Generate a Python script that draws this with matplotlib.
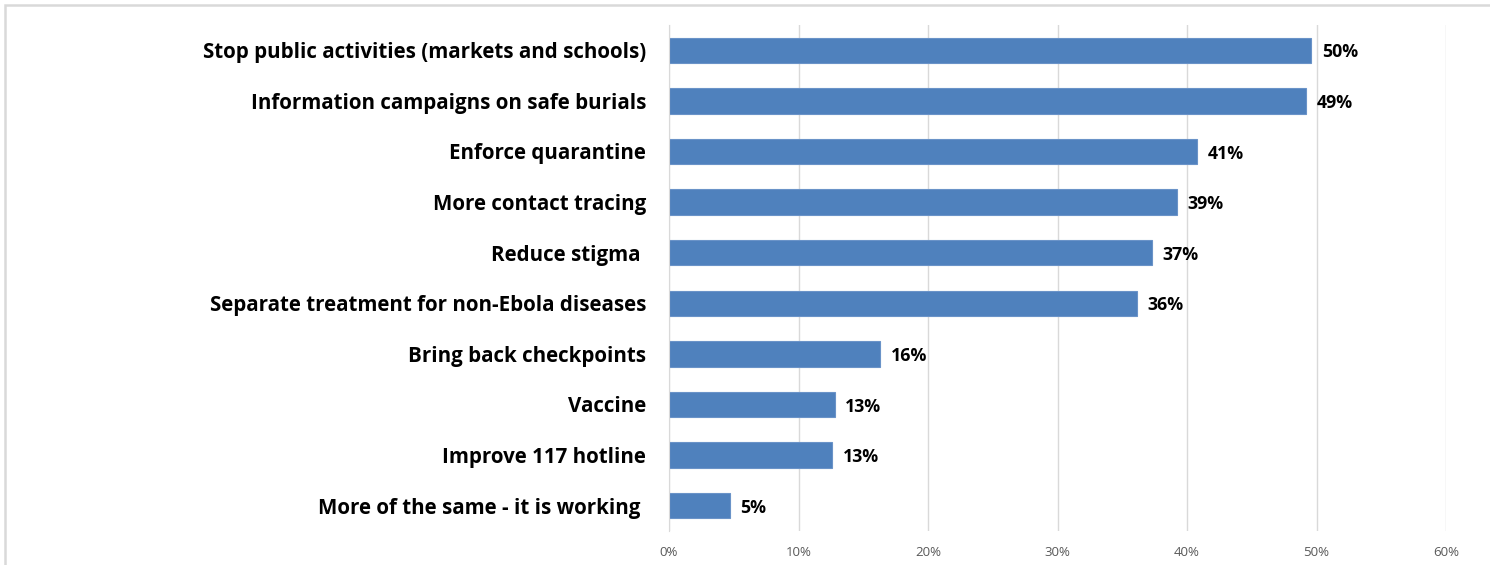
import matplotlib.pyplot as plt
from matplotlib.patches import Rectangle
from matplotlib import ticker

measures = [
    'Stop public activities (markets and schools)',
    'Information campaigns on safe burials',
    'Enforce quarantine',
    'More contact tracing',
    'Reduce stigma ',
    'Separate treatment for non-Ebola diseases',
    'Bring back checkpoints',
    'Vaccine',
    'Improve 117 hotline',
    'More of the same - it is working ',
]
share = [0.496, 0.492, 0.408, 0.392, 0.373, 0.361, 0.163, 0.128, 0.126, 0.047]
xticks = [0, 0.1, 0.2, 0.3, 0.4, 0.5, 0.6]

plt.rcParams['font.family'] = ['Open Sans', 'DejaVu Sans']

fig = plt.figure(figsize=(14.9, 5.65), dpi=100)
ax = fig.add_axes([0.449, 0.0602, 0.5215, 0.8956])

pos = list(range(len(measures)))
ax.barh(pos, share, height=0.5, color='#4f81bd', edgecolor='#6a93c8', linewidth=0.8, zorder=3)

for y, v in zip(pos, share):
    ax.text(v + 0.008, y + 0.04, '{:.0%}'.format(v), va='center', ha='left',
            fontsize=12.8, fontweight='bold', color='black')

ax.set_xlim(0, 0.6)
ax.set_ylim(len(measures) - 0.5, -0.5)
ax.set_xticks(xticks)
ax.xaxis.set_major_formatter(ticker.PercentFormatter(1.0, decimals=0))
ax.set_yticks(pos)
ax.set_yticklabels(measures, fontsize=14.8, fontweight='bold')

ax.grid(axis='x', color='#d9d9d9', linewidth=1, zorder=0)
for s in ['top', 'right', 'bottom']:
    ax.spines[s].set_visible(False)
ax.spines['left'].set_color('#d9d9d9')
ax.spines['left'].set_zorder(4)
ax.tick_params(axis='y', length=0, pad=16.5)
ax.tick_params(axis='x', length=0, pad=11, labelsize=9.5, labelcolor='#595959')

# light frame around the chart area
fig.patches.append(Rectangle((5 / 1490, -0.05), 1.1, 1 - 5 / 565 + 0.05,
                             transform=fig.transFigure, fill=False,
                             edgecolor='#d9d9d9', linewidth=1.8))

fig.savefig('out.png', dpi=100)
